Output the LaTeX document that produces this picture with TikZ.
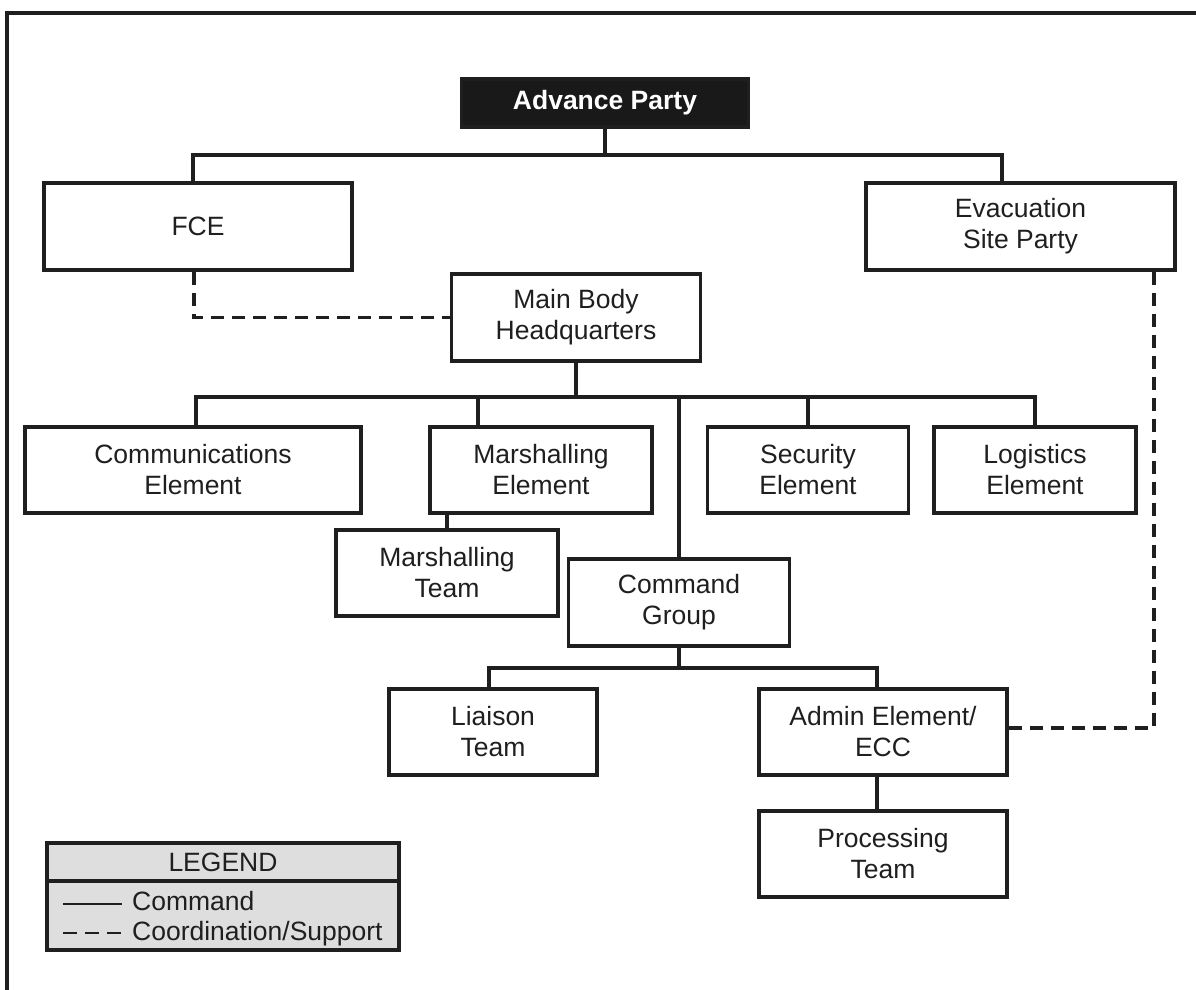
\documentclass[tikz,border=0pt]{standalone}
\usepackage{fontspec}
\setmainfont{Liberation Sans}
\begin{document}
\begin{tikzpicture}[x=1pt,y=-1pt,
  ink/.style={draw=black!88, line width=3.1pt},
  unit/.style={ink, rectangle, inner sep=0pt, align=center, text=black!88,
    font=\fontsize{26.5}{31}\selectfont, fill=white},
  lead/.style={unit, fill=black!90, text=white,
    font=\fontsize{26.5}{31}\selectfont\bfseries},
  cmdline/.style={ink},
  coordline/.style={ink, dash pattern=on 13pt off 8pt},
  legtext/.style={inner sep=0pt, anchor=base west, text=black!88,
    font=\fontsize{26.5}{31}\selectfont},
]
\useasboundingbox (0,0) rectangle (1196,989);
\clip (0,0) rectangle (1196,989);
% outer frame
\draw[ink, line width=3.3pt] (7,13) rectangle (1230,1020);

% units
\node[lead, minimum width=287pt, minimum height=48pt] (adv) at (605,103) {Advance Party};
\node[unit, minimum width=308pt, minimum height=87pt] (fce) at (198,226.5) {FCE};
\node[unit, minimum width=309pt, minimum height=87pt] (evac) at (1020.5,226.5) {Evacuation\\Site Party};
\node[unit, minimum width=249pt, minimum height=87pt] (main) at (576,317.5) {Main Body\\Headquarters};

\node[unit, minimum width=336pt, minimum height=86pt] (comm) at (193,470) {Communications\\Element};
\node[unit, minimum width=222pt, minimum height=86pt] (marE) at (541,470) {Marshalling\\Element};
\node[unit, minimum width=201pt, minimum height=86pt] (sec) at (808,470) {Security\\Element};
\node[unit, minimum width=202pt, minimum height=86pt] (log) at (1035,470) {Logistics\\Element};

\node[unit, minimum width=222pt, minimum height=86pt] (marT) at (447,573) {Marshalling\\Team};
\node[unit, minimum width=221pt, minimum height=87pt] (cmd) at (679,602.5) {Command\\Group};

\node[unit, minimum width=208pt, minimum height=86pt] (lia) at (493,732) {Liaison\\Team};
\node[unit, minimum width=248pt, minimum height=86pt] (adm) at (883,732) {Admin Element/\\ECC};
\node[unit, minimum width=248pt, minimum height=86pt] (proc) at (883,854) {Processing\\Team};

% command lines
\coordinate (busA) at (605,155);
\draw[cmdline] (adv.south) -- (busA);
\draw[cmdline] ([xshift=-5pt]fce.north) |- (busA) -| ([xshift=-18.5pt]evac.north);

\coordinate (busB) at (576,397);
\draw[cmdline] (main.south) -- (busB);
\draw[cmdline] ([xshift=3pt]comm.north) |- (busB) -| (log.north);
\draw[cmdline] ([xshift=-63pt]marE.north) -- ([xshift=-63pt]marE.north |- busB);
\draw[cmdline] (sec.north) -- (sec.north |- busB);
\draw[cmdline] (cmd.north) -- (cmd.north |- busB);
\draw[cmdline] (marT.north) -- (marT.north |- marE.south);

\coordinate (busC) at (679,668);
\draw[cmdline] (cmd.south) -- (busC);
\draw[cmdline] ([xshift=-4pt]lia.north) |- (busC) -| ([xshift=-6pt]adm.north);
\draw[cmdline] ([xshift=-6pt]adm.south) -- ([xshift=-6pt]proc.north);

% coordination / support lines
\draw[coordline] ([xshift=-4pt]fce.south) |- (main.west);
\draw[coordline] ([xshift=133.5pt]evac.south) |- ([yshift=4pt]adm.east);

% legend
\node[unit, fill=black!13, minimum width=352pt, minimum height=69pt] (legB) at (223,915.5) {};
\node[unit, fill=black!13, minimum width=352pt, minimum height=38pt] (legT) at (223,862) {LEGEND};
\node[legtext] (legCmd) at (132,910) {Command};
\node[legtext] (legCrd) at (132,940) {Coordination/Support};
\coordinate (sampleA) at (63,904);
\coordinate (sampleB) at (63,933);
\draw[cmdline, line width=2.6pt] (sampleA) -- ++(59,0);
\draw[ink, line width=2.6pt, dash pattern=on 14pt off 8pt] (sampleB) -- ++(58,0);
\end{tikzpicture}
\end{document}
